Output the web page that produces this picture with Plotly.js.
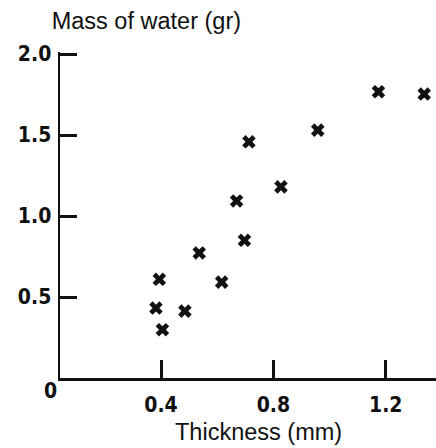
<!DOCTYPE html>
<html>
<head>
<meta charset="utf-8">
<script src="https://cdn.plot.ly/plotly-3.0.1.min.js"></script>
<style>html,body{margin:0;padding:0;background:#fff;}#chart{width:436px;height:448px;}</style>
</head>
<body>
<div id="chart"></div>
<script>
// Data
var thickness = [0.382, 0.394, 0.405, 0.485, 0.536, 0.616, 0.669, 0.697, 0.713, 0.827, 0.958, 1.174, 1.337];
var massWater = [0.432, 0.609, 0.298, 0.413, 0.772, 0.592, 1.093, 0.850, 1.458, 1.180, 1.530, 1.767, 1.753];
var xTickVals = [0.4, 0.8, 1.2];
var xTickText = ["0.4", "0.8", "1.2"];
var yTickVals = [0.5, 1.0, 1.5, 2.0];
var yTickText = ["0.5", "1.0", "1.5", "2.0"];
var titleText = "Mass of water (gr)";
var xTitleText = "Thickness (mm)";
var originText = "0";

var tickFont = {family: "DejaVu Sans Condensed, DejaVu Sans", size: 21, color: "#111", weight: "bold"};
var labelFont = {family: "Liberation Sans, Arial, sans-serif", size: 23.5, color: "#111"};

var trace = {
  x: thickness,
  y: massWater,
  type: "scatter",
  mode: "markers",
  marker: {symbol: "x", size: 12, color: "#111", line: {width: 0}},
  hoverinfo: "x+y",
  cliponaxis: false
};

var plotTop = 52, plotBottom = 378;
var layout = {
  width: 436,
  height: 448,
  margin: {l: 60, r: 0, t: plotTop, b: 448 - plotBottom},
  paper_bgcolor: "#fff",
  plot_bgcolor: "#fff",
  showlegend: false,
  title: {
    text: titleText,
    font: labelFont,
    xref: "container",
    yref: "container",
    x: 51.7 / 436,
    xanchor: "left",
    y: 1 - 21 / 448,
    yanchor: "middle"
  },
  xaxis: {
    range: [0.0404, 1.379],
    tickvals: xTickVals,
    ticktext: xTickText,
    ticks: "inside",
    ticklen: 18,
    tickwidth: 3,
    tickcolor: "#111",
    showline: true,
    linewidth: 2.5,
    linecolor: "#111",
    showgrid: false,
    zeroline: false,
    automargin: false,
    tickfont: tickFont,
    ticklabelstandoff: 6
  },
  yaxis: {
    range: [0, 2.0124],
    tickvals: yTickVals,
    ticktext: yTickText,
    ticks: "inside",
    ticklen: 17,
    tickwidth: 3,
    tickcolor: "#111",
    showline: true,
    linewidth: 2.5,
    linecolor: "#111",
    showgrid: false,
    zeroline: false,
    automargin: false,
    tickfont: tickFont,
    ticklabelstandoff: 2
  },
  annotations: [
    {
      text: xTitleText,
      xref: "paper", yref: "paper",
      x: (258.4 - 60) / 376, y: (plotBottom - 432) / (plotBottom - plotTop),
      xanchor: "center", yanchor: "middle",
      showarrow: false,
      font: labelFont
    },
    {
      text: originText,
      xref: "paper", yref: "paper",
      x: (50 - 60) / 376, y: (plotBottom - 391) / (plotBottom - plotTop),
      xanchor: "center", yanchor: "middle",
      showarrow: false,
      font: tickFont
    }
  ]
};

Plotly.newPlot("chart", [trace], layout, {displayModeBar: false, staticPlot: true});
</script>
</body>
</html>
